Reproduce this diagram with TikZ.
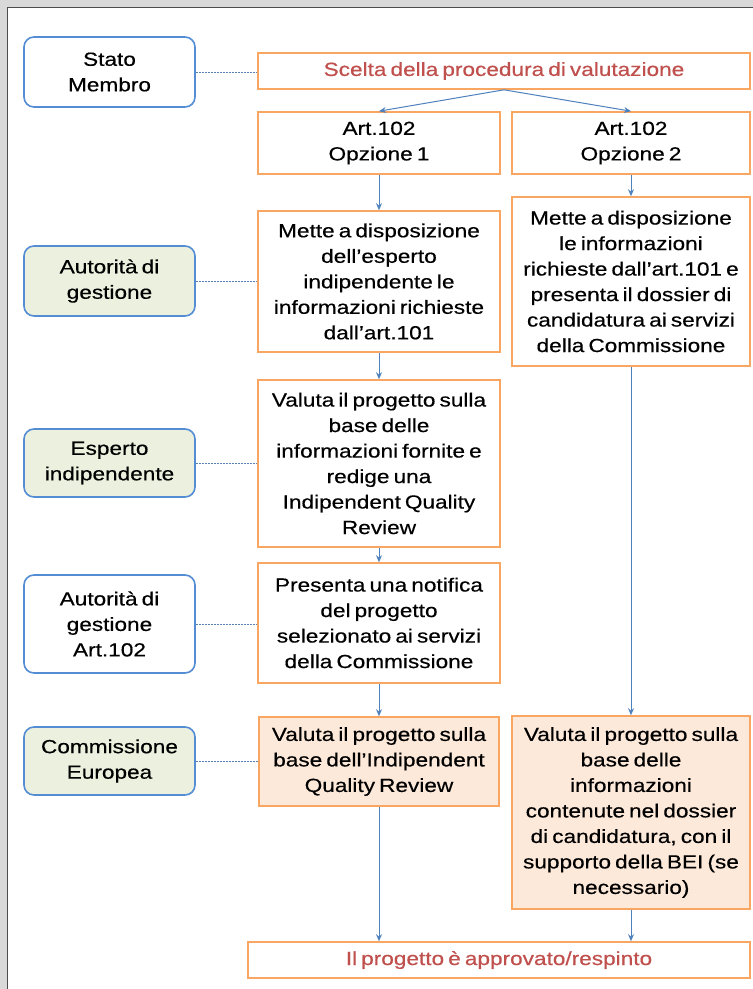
\documentclass[tikz,border=0pt]{standalone}
\usepackage{fontspec}
\setmainfont{Liberation Sans}[FakeStretch=1.19,WordSpace=0.65,FakeBold=0.4]
\usetikzlibrary{arrows.meta}
\definecolor{actorblue}{RGB}{84,141,212}
\definecolor{boxorange}{RGB}{249,166,98}
\definecolor{flowblue}{RGB}{79,129,189}
\definecolor{titlered}{RGB}{192,80,77}
\definecolor{actorgreen}{RGB}{235,241,222}
\definecolor{boxpeach}{RGB}{253,233,217}
\definecolor{pagegray}{RGB}{217,217,217}

\begin{document}
\begin{tikzpicture}[x=1pt,y=-1pt,
    every node/.style={font=\fontsize{19}{25.5}\selectfont,align=center,inner sep=0pt},
    actor/.style={draw=actorblue,line width=1.6pt,rounded corners=10pt,fill=white,minimum width=171pt},
    actorg/.style={actor,fill=actorgreen},
    stepbox/.style={draw=boxorange,line width=1.6pt,fill=white},
    stepfill/.style={stepbox,fill=boxpeach},
    flow/.style={draw=flowblue,line width=1pt,-{Stealth[length=7pt,width=6pt]}},
    link/.style={draw=flowblue!80!gray,line width=0.9pt,dash pattern=on 2pt off 1pt}]
    \useasboundingbox (0,0) rectangle (753,989);
    
    % page
    \fill[pagegray] (0,0) rectangle (753,989);
    \fill[white] (7,7) rectangle (753,989);
    \draw[gray!60!black,line width=1pt] (7,989) -- (7,7) -- (753,7);
    
    % actors
    \node[actor,minimum height=70pt] (stato) at (109.5,72) {Stato\\Membro};
    \node[actorg,minimum height=70pt] (autorita) at (109.5,281) {Autorità di\\gestione};
    \node[actorg,minimum height=68pt] (esperto) at (109.5,463) {Esperto\\indipendente};
    \node[actor,minimum height=98pt] (autorita2) at (109.5,624) {Autorità di\\gestione\\Art.102};
    \node[actorg,minimum height=68pt] (commissione) at (109.5,761) {Commissione\\Europea};
    
    % steps
    \node[stepbox,minimum width=492pt,minimum height=36pt,text=titlered] (scelta) at (504,71) {Scelta della procedura di valutazione};
    \node[stepbox,minimum width=242pt,minimum height=62pt] (opz1) at (379,143) {Art.102\\Opzione 1};
    \node[stepbox,minimum width=238pt,minimum height=62pt] (opz2) at (631,143) {Art.102\\Opzione 2};
    \node[stepbox,minimum width=242pt,minimum height=141pt] (mette1) at (379,281.5) {Mette a disposizione\\dell’esperto\\indipendente le\\informazioni richieste\\dall’art.101};
    \node[stepbox,minimum width=238pt,minimum height=169pt] (mette2) at (631,281.5) {Mette a disposizione\\le informazioni\\richieste dall’art.101 e\\presenta il dossier di\\candidatura ai servizi\\della Commissione};
    \node[stepbox,minimum width=242pt,minimum height=167pt] (valuta1) at (379,463.5) {Valuta il progetto sulla\\base delle\\informazioni fornite e\\redige una\\Indipendent Quality\\Review};
    \node[stepbox,minimum width=242pt,minimum height=120pt] (presenta) at (379,623) {Presenta una notifica\\del progetto\\selezionato ai servizi\\della Commissione};
    \node[stepfill,minimum width=240pt,minimum height=89pt] (valutaCE1) at (379,761.5) {Valuta il progetto sulla\\base dell’Indipendent\\Quality Review};
    \node[stepfill,minimum width=238pt,minimum height=193pt] (valutaCE2) at (631,812.5) {Valuta il progetto sulla\\base delle\\informazioni\\contenute nel dossier\\di candidatura, con il\\supporto della BEI (se\\necessario)};
    \node[stepbox,minimum width=502pt,minimum height=36pt,text=titlered] (finale) at (499,960) {Il progetto è approvato/respinto};
    
    % draw flow
    \draw[flow] (scelta.south) -- (opz1.north);
    \draw[flow] (scelta.south) -- (opz2.north);
    \foreach \a/\b in {opz1/mette1, opz2/mette2, mette1/valuta1, valuta1/presenta, presenta/valutaCE1, mette2/valutaCE2} {
        \draw[flow] (\a) -- (\b);
    }
    \foreach \a in {valutaCE1, valutaCE2} {
        \draw[flow] (\a.south) -- (\a.south |- finale.north);
    }
    
    % draw actor links
    \foreach \a/\b in {stato/scelta, autorita/mette1, esperto/valuta1, autorita2/presenta, commissione/valutaCE1} {
        \draw[link] (\a.east) -- (\a.east -| \b.west);
    }
\end{tikzpicture}
\end{document}
